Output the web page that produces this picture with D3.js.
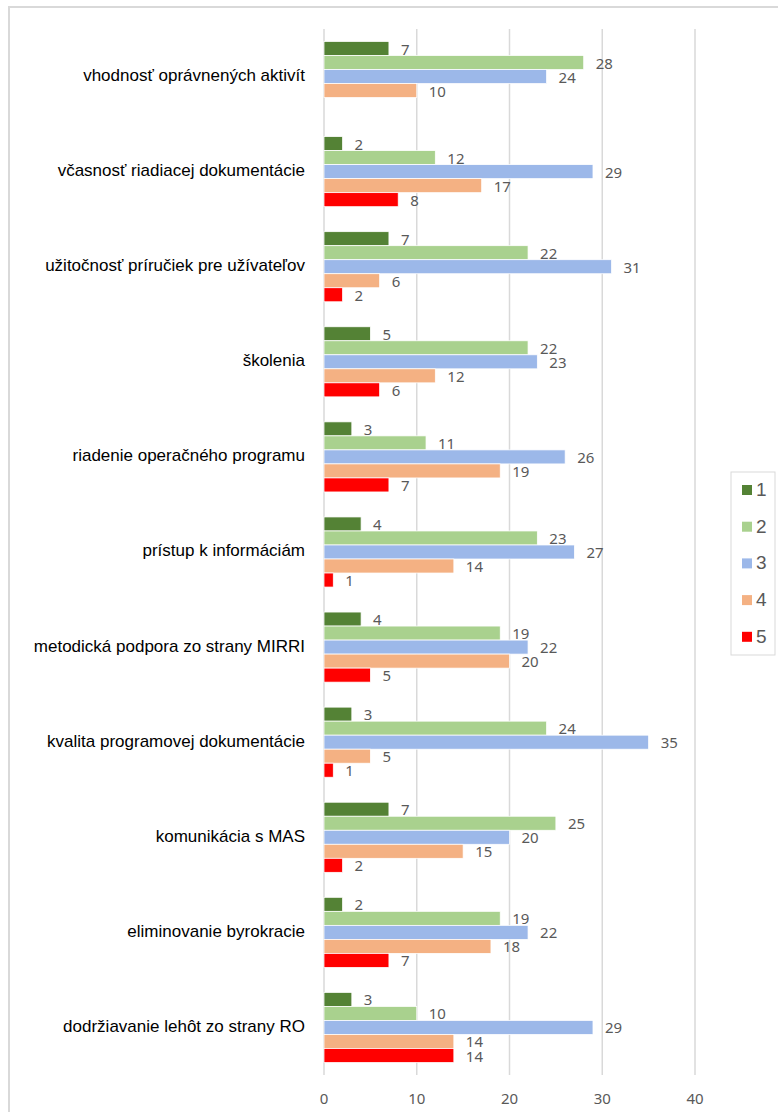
<!DOCTYPE html>
<html>
<head>
<meta charset="utf-8">
<script src="https://d3js.org/d3.v7.min.js"></script>
<style>
  body { margin:0; background:#fff; }
  svg { display:block; }
  .cat { font-family: "Liberation Sans", Arial, sans-serif; font-size:17px; fill:#000; }
  .val, .tick-lbl { font-family: "Noto Sans", sans-serif; font-size:15px; fill:#595959; }
  .leg { font-family: "Liberation Sans", Arial, sans-serif; font-size:19px; fill:#595959; }
</style>
</head>
<body>
<script>
var categories = [
  "vhodnosť oprávnených aktivít",
  "včasnosť riadiacej dokumentácie",
  "užitočnosť príručiek pre užívateľov",
  "školenia",
  "riadenie operačného programu",
  "prístup k informáciám",
  "metodická podpora zo strany MIRRI",
  "kvalita programovej dokumentácie",
  "komunikácia s MAS",
  "eliminovanie byrokracie",
  "dodržiavanie lehôt zo strany RO"
];
var seriesNames = ["1", "2", "3", "4", "5"];
var s1 = [7, 2, 7, 5, 3, 4, 4, 3, 7, 2, 3];
var s2 = [28, 12, 22, 22, 11, 23, 19, 24, 25, 19, 10];
var s3 = [24, 29, 31, 23, 26, 27, 22, 35, 20, 22, 29];
var s4 = [10, 17, 6, 12, 19, 14, 20, 5, 15, 18, 14];
var s5 = [0, 8, 2, 6, 7, 1, 5, 1, 2, 7, 14];
var ticks = [0, 10, 20, 30, 40];
var colors = ["#548235", "#a9d18e", "#9cb8e9", "#f4b183", "#ff0000"];

var series = [s1, s2, s3, s4, s5];
var width = 778, height = 1112;

var svg = d3.select("body").append("svg")
    .attr("width", width)
    .attr("height", height);

// chart border (cut off on right/bottom like the reference)
svg.append("rect")
    .attr("x", 9).attr("y", 7)
    .attr("width", 800).attr("height", 1200)
    .attr("fill", "#fff")
    .attr("stroke", "#d9d9d9")
    .attr("stroke-width", 2);

var x = d3.scaleLinear().domain([0, 40]).range([324, 695]);
var y = d3.scaleBand().domain(categories).range([29, 1075])
    .paddingInner(0.263).paddingOuter(0.1315);
var yIn = d3.scaleBand().domain(seriesNames).range([0, y.bandwidth()]);

// gridlines
svg.append("g").selectAll("line")
    .data(ticks)
  .enter().append("line")
    .attr("x1", d => x(d)).attr("x2", d => x(d))
    .attr("y1", 29).attr("y2", 1075)
    .attr("stroke", "#d9d9d9")
    .attr("stroke-width", 1.5);

svg.append("g").selectAll("text")
    .data(ticks)
  .enter().append("text")
    .attr("class", "tick-lbl")
    .attr("x", d => x(d))
    .attr("y", 1100)
    .attr("text-anchor", "middle")
    .attr("dominant-baseline", "middle")
    .text(d => d);

// category labels
svg.append("g").selectAll("text")
    .data(categories)
  .enter().append("text")
    .attr("class", "cat")
    .attr("x", 305)
    .attr("y", d => y(d) + y.bandwidth() / 2)
    .attr("text-anchor", "end")
    .attr("dominant-baseline", "middle")
    .text(d => d);

var flat = [];
series.forEach(function(vals, si) {
  vals.forEach(function(v, ci) {
    flat.push({cat: categories[ci], s: seriesNames[si], si: si, v: v});
  });
});
var shown = flat.filter(d => d.v > 0);

svg.append("g").selectAll("rect")
    .data(shown)
  .enter().append("rect")
    .attr("x", x(0))
    .attr("y", d => y(d.cat) + yIn(d.s))
    .attr("width", d => x(d.v) - x(0))
    .attr("height", yIn.bandwidth())
    .attr("fill", d => colors[d.si])
    .attr("stroke", "#fff")
    .attr("stroke-width", 0.75);

svg.append("g").selectAll("text")
    .data(shown)
  .enter().append("text")
    .attr("class", "val")
    .attr("x", d => x(d.v) + 12)
    .attr("y", d => y(d.cat) + yIn(d.s) + yIn.bandwidth() / 2 + 2)
    .attr("dominant-baseline", "middle")
    .text(d => d.v);

// legend
var leg = svg.append("g");
leg.append("rect")
    .attr("x", 731).attr("y", 472)
    .attr("width", 44).attr("height", 183)
    .attr("fill", "#fff")
    .attr("stroke", "#d9d9d9")
    .attr("stroke-width", 1);
var legItems = leg.selectAll("g")
    .data(seriesNames)
  .enter().append("g")
    .attr("transform", (d, i) => "translate(742," + (490 + i * 36.7) + ")");
legItems.append("rect")
    .attr("x", 0).attr("y", -5)
    .attr("width", 10).attr("height", 10)
    .attr("fill", (d, i) => colors[i]);
legItems.append("text")
    .attr("class", "leg")
    .attr("x", 14)
    .attr("y", 1)
    .attr("dominant-baseline", "middle")
    .text(d => d);
</script>
</body>
</html>
